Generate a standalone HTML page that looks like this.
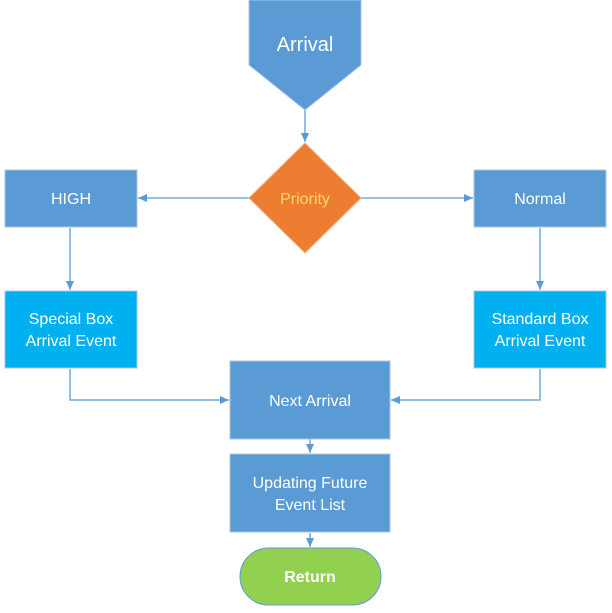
<!DOCTYPE html>
<html><head><meta charset="utf-8"><style>
html,body{margin:0;padding:0;background:#fff;}
svg{display:block;}
text{font-family:"Liberation Sans",sans-serif;}
</style></head><body>
<svg width="612" height="613" viewBox="0 0 612 613" xmlns="http://www.w3.org/2000/svg">
<defs>
<marker id="a" markerWidth="10" markerHeight="10" refX="9" refY="5" orient="auto" markerUnits="userSpaceOnUse">
<path d="M0,1 L9,5 L0,9 Z" fill="#5b9bd5"/></marker>
</defs>
<g stroke="#5b9bd5" stroke-width="1.3" fill="none">
<line x1="305" y1="110" x2="305" y2="142" marker-end="url(#a)"/>
<line x1="249" y1="198" x2="138" y2="198" marker-end="url(#a)"/>
<line x1="361" y1="198" x2="473" y2="198" marker-end="url(#a)"/>
<line x1="70" y1="228" x2="70" y2="290" marker-end="url(#a)"/>
<line x1="540" y1="228" x2="540" y2="290" marker-end="url(#a)"/>
<polyline points="70,369 70,400 229,400" marker-end="url(#a)"/>
<polyline points="540,369 540,400 391,400" marker-end="url(#a)"/>
<line x1="310" y1="439" x2="310" y2="453" marker-end="url(#a)"/>
<line x1="310" y1="533" x2="310" y2="547" marker-end="url(#a)"/>
</g>
<g stroke="#a9c4e4" stroke-width="1">
<polygon points="249,0 361,0 361,65 305,110 249,65" fill="#5b9bd5"/>
<rect x="5" y="170" width="132" height="57" fill="#5b9bd5"/>
<rect x="474" y="170" width="132" height="57" fill="#5b9bd5"/>
<rect x="5" y="291" width="132" height="77" fill="#00b0f0"/>
<rect x="474" y="291" width="132" height="77" fill="#00b0f0"/>
<rect x="230" y="361" width="160" height="78" fill="#5b9bd5"/>
<rect x="230" y="454" width="160" height="78" fill="#5b9bd5"/>
</g>
<polygon points="305,143 361,198 305,253 249,198" fill="#ed7d31" stroke="#f4b183" stroke-width="1"/>
<rect x="240" y="548" width="141" height="57" rx="28.5" fill="#92d050" stroke="#5b9bd5" stroke-width="1"/>
<g fill="#fff" font-size="16" text-anchor="middle">
<text x="305" y="51" font-size="20">Arrival</text>
<text x="305" y="204" fill="#ffd966">Priority</text>
<text x="71" y="204">HIGH</text>
<text x="540" y="204">Normal</text>
<text x="71" y="324">Special Box</text>
<text x="71" y="346">Arrival Event</text>
<text x="540" y="324">Standard Box</text>
<text x="540" y="346">Arrival Event</text>
<text x="310" y="406">Next Arrival</text>
<text x="310" y="488">Updating Future</text>
<text x="310" y="510">Event List</text>
<text x="310" y="582" font-weight="bold">Return</text>
</g>
</svg>
</body></html>
